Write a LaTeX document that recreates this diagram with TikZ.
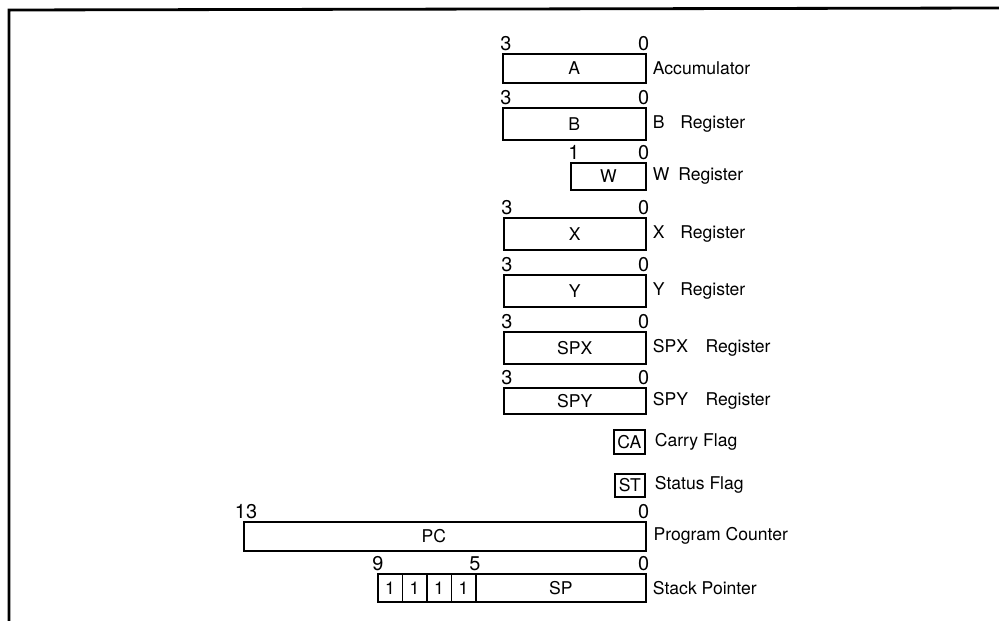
\documentclass[tikz,border=0pt]{standalone}
\usepackage{fontspec}
\setmainfont{TeX Gyre Heros}
\usetikzlibrary{positioning}

\tikzset{
  reg/.style={draw, line width=1.4pt, inner sep=0pt, anchor=north west},
  bitno/.style={anchor=south, inner sep=0pt, font=\fontsize{17}{20}\selectfont},
  regname/.style={anchor=west, inner sep=0pt}
}

\begin{document}
\begin{tikzpicture}[x=0.03cm,y=-0.03cm,font=\fontsize{15}{18}\selectfont]
  \useasboundingbox (0,0) rectangle (999,621);
  \draw[line width=2.4pt] (999,8) -- (9,10) -- (9,621);

  \node[reg, minimum width=4.29cm, minimum height=0.87cm] (Areg) at (502,53) {A};
  \node[bitno] (A3) at ([shift={(4,-2)}]Areg.north west) {3};
  \node[bitno] (A0) at ([shift={(-3,-2)}]Areg.north east) {0};
  \node[regname, right=0.18cm of Areg] (Aname) {Accumulator};

  \node[reg, minimum width=4.29cm, minimum height=0.96cm] (Breg) at (502,107) {B};
  \node[bitno] (B3) at ([shift={(4,-2)}]Breg.north west) {3};
  \node[bitno] (B0) at ([shift={(-3,-2)}]Breg.north east) {0};
  \node[regname, right=0.18cm of Breg] (Bname) {B\hspace{0.9em}Register};

  \node[reg, minimum width=2.25cm, minimum height=0.81cm] (Wreg) at (570,162) {W};
  \node[bitno] (W1) at ([shift={(4,-2)}]Wreg.north west) {1};
  \node[bitno] (W0) at ([shift={(-3,-2)}]Wreg.north east) {0};
  \node[regname, right=0.18cm of Wreg] (Wname) {W\hspace{0.5em}Register};

  \node[reg, minimum width=4.26cm, minimum height=0.96cm] (Xreg) at (503,217) {X};
  \node[bitno] (X3) at ([shift={(4,-2)}]Xreg.north west) {3};
  \node[bitno] (X0) at ([shift={(-3,-2)}]Xreg.north east) {0};
  \node[regname, right=0.18cm of Xreg] (Xname) {X\hspace{0.9em}Register};

  \node[reg, minimum width=4.26cm, minimum height=0.96cm] (Yreg) at (503,274) {Y};
  \node[bitno] (Y3) at ([shift={(4,-2)}]Yreg.north west) {3};
  \node[bitno] (Y0) at ([shift={(-3,-2)}]Yreg.north east) {0};
  \node[regname, right=0.18cm of Yreg] (Yname) {Y\hspace{0.9em}Register};

  \node[reg, minimum width=4.26cm, minimum height=0.96cm] (SPXreg) at (503,331) {SPX};
  \node[bitno] (SPX3) at ([shift={(4,-2)}]SPXreg.north west) {3};
  \node[bitno] (SPX0) at ([shift={(-3,-2)}]SPXreg.north east) {0};
  \node[regname, right=0.18cm of SPXreg] (SPXname) {SPX\hspace{1em}Register};

  \node[reg, minimum width=4.26cm, minimum height=0.78cm] (SPYreg) at (503,387) {SPY};
  \node[bitno] (SPY3) at ([shift={(4,-2)}]SPYreg.north west) {3};
  \node[bitno] (SPY0) at ([shift={(-3,-2)}]SPYreg.north east) {0};
  \node[regname, right=0.18cm of SPYreg] (SPYname) {SPY\hspace{1em}Register};

  \node[reg, minimum width=0.93cm, minimum height=0.72cm] (CAflag) at (613,429) {CA};
  \node[regname, right=0.27cm of CAflag] (CAname) {Carry Flag};
  \node[reg, minimum width=0.9cm, minimum height=0.69cm] (STflag) at (614,473) {ST};
  \node[regname, right=0.27cm of STflag] (STname) {Status Flag};

  \node[reg, minimum width=12.06cm, minimum height=0.87cm] (PCreg) at (243,521) {};
  \node (PCtext) at ([xshift=-0.33cm]PCreg.center) {PC};
  \node[bitno] (PC13) at ([shift={(3,-2)}]PCreg.north west) {13};
  \node[bitno] (PC0) at ([shift={(-3,-2)}]PCreg.north east) {0};
  \node[regname, right=0.2cm of PCreg] (PCname) {Program Counter};

  \foreach \i in {0,...,3}
    \node[reg, minimum width=0.735cm, minimum height=0.84cm] (one\i) at ({377+24.5*\i},573) {1};
  \node[reg, minimum width=5.1cm, minimum height=0.84cm] (SPreg) at (475,573) {SP};
  \node[bitno] (SP9) at ([shift={(1,-2)}]one0.north west) {9};
  \node[bitno] (SP5) at ([shift={(0,-2)}]SPreg.north west) {5};
  \node[bitno] (SP0) at ([shift={(-3,-2)}]SPreg.north east) {0};
  \node[regname, right=0.18cm of SPreg] (SPname) {Stack Pointer};
\end{tikzpicture}
\end{document}
